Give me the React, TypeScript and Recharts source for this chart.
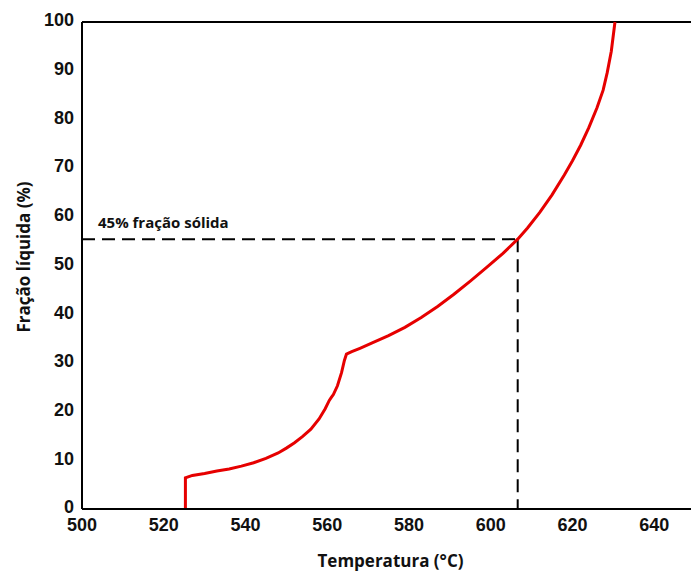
import { Label, Line, LineChart, ReferenceLine, XAxis, YAxis } from "recharts";

// temperature (°C) and liquid fraction (%)
const temperature = [
  525.3, 525.3, 527, 530, 533, 536, 539, 542, 545, 548, 550, 552, 554, 556, 558, 559.5, 560.5, 561, 561.5,
  562.5, 563.5, 564.2, 564.7, 566, 568, 571, 575, 579, 583, 587, 591, 595, 599, 603, 606.6, 609, 612, 615,
  618, 620, 622, 624, 626, 627.5, 628.5, 629.5, 630.4,
];
const liquidFraction = [
  0, 6.4, 6.9, 7.3, 7.8, 8.2, 8.8, 9.5, 10.4, 11.5, 12.5, 13.6, 14.9, 16.4, 18.5, 20.6, 22.3, 22.9, 23.5,
  25.3, 28.0, 30.5, 31.8, 32.3, 33.0, 34.1, 35.6, 37.3, 39.3, 41.6, 44.1, 46.8, 49.6, 52.5, 55.4, 57.7, 60.9,
  64.5, 68.6, 71.5, 74.7, 78.3, 82.4, 86.0, 89.6, 94.0, 100,
];

const xTicks = [500, 520, 540, 560, 580, 600, 620, 640];
const yTicks = [0, 10, 20, 30, 40, 50, 60, 70, 80, 90, 100];

const marker = { temperature: 606.6, fraction: 55.4, label: "45% fração sólida" };

const data = temperature.map((t, i) => ({ t, f: liquidFraction[i] }));

const tickFont = {
  fill: "#111",
  fontSize: 18,
  fontWeight: 700,
  fontFamily: "'Liberation Sans Narrow', 'Arial Narrow', 'Liberation Sans', Arial, sans-serif",
};
const titleFont = "'Open Sans', 'Noto Sans', sans-serif";

export default function App() {
  return (
    <div style={{ position: "absolute", left: 0, top: 0, background: "#fff" }}>
      <LineChart width={691} height={572} data={data} margin={{ top: 22, right: 0, bottom: 0, left: 0 }}>
        <XAxis
          dataKey="t"
          type="number"
          domain={[500, 649]}
          ticks={xTicks}
          allowDataOverflow
          height={63}
          tickLine={false}
          tickSize={0}
          tickMargin={9}
          tick={tickFont}
          axisLine={{ stroke: "#000", strokeWidth: 2 }}
        >
          <Label
            value="Temperatura (°C)"
            position="insideBottom"
            offset={5}
            dx={4}
            style={{ fontFamily: titleFont, fontSize: 17, fontWeight: 700, fill: "#111" }}
          />
        </XAxis>
        <YAxis
          dataKey="f"
          type="number"
          domain={[0, 100]}
          ticks={yTicks}
          width={82}
          tickLine={false}
          tickSize={0}
          tickMargin={8}
          tick={{ ...tickFont, dy: -2 }}
          axisLine={{ stroke: "#000", strokeWidth: 2 }}
        >
          <Label
            content={() => (
              <text
                x={30}
                y={257}
                transform="rotate(-90 30 257)"
                textAnchor="middle"
                style={{ fontFamily: titleFont, fontSize: 17, fontWeight: 700, fill: "#111" }}
              >
                Fração líquida (%)
              </text>
            )}
          />
        </YAxis>
        <ReferenceLine y={100} stroke="#000" strokeWidth={2} />
        <ReferenceLine
          segment={[
            { x: 500, y: marker.fraction },
            { x: marker.temperature, y: marker.fraction },
          ]}
          stroke="#000"
          strokeWidth={2}
          strokeDasharray="13 7"
        >
          <Label
            content={(props: any) => {
              const vb = props.viewBox || {};
              return (
                <text
                  x={(vb.x ?? 82) + 16}
                  y={(vb.y ?? 239) - 11}
                  style={{ fontFamily: titleFont, fontSize: 15, fontWeight: 700, fill: "#111" }}
                >
                  {marker.label}
                </text>
              );
            }}
          />
        </ReferenceLine>
        <ReferenceLine
          segment={[
            { x: marker.temperature, y: marker.fraction },
            { x: marker.temperature, y: 0 },
          ]}
          stroke="#000"
          strokeWidth={2}
          strokeDasharray="13 7"
        />
        <Line
          dataKey="f"
          type="linear"
          stroke="#e60000"
          strokeWidth={3}
          dot={false}
          isAnimationActive={false}
        />
      </LineChart>
    </div>
  );
}
